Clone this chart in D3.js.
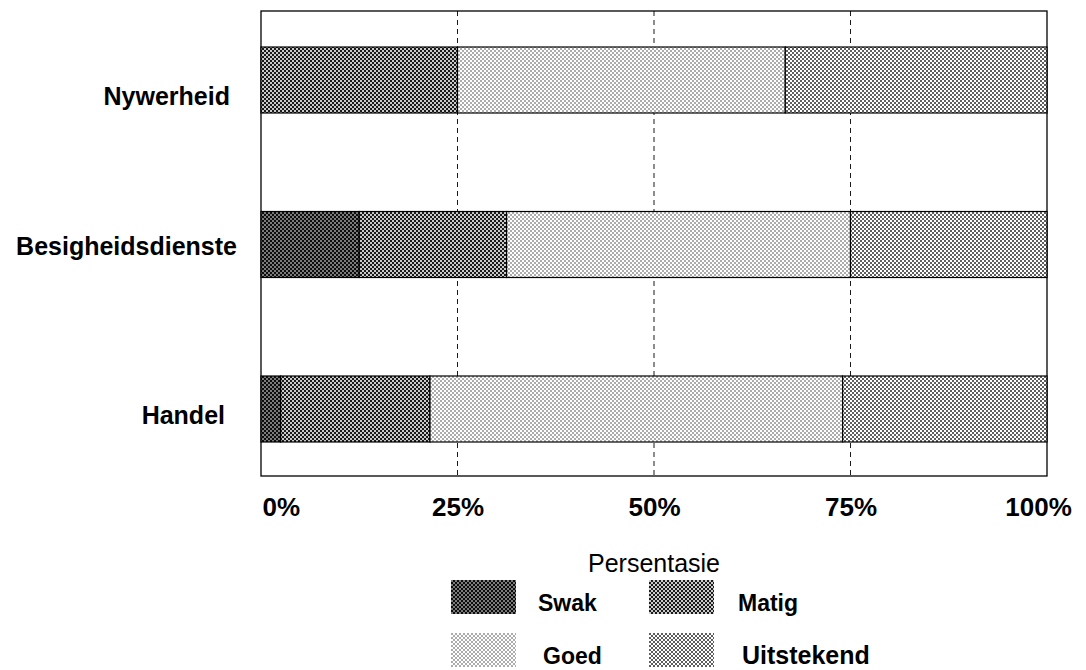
<!DOCTYPE html>
<html>
<head>
<meta charset="utf-8">
<script src="https://cdn.jsdelivr.net/npm/d3@7/dist/d3.min.js"></script>
<style>
  html, body { margin: 0; padding: 0; background: #fff; }
  svg { display: block; }
  text { font-family: "Liberation Sans", Arial, Helvetica, sans-serif; fill: #000; }
</style>
</head>
<body>
<svg id="chart" width="1086" height="670"></svg>
<script>
// Sector ratings, share of respondents per rating (percent)
const categories = ["Nywerheid", "Besigheidsdienste", "Handel"];
const ratings = ["Swak", "Matig", "Goed", "Uitstekend"];
const swak       = [0,    12.5,  2.5];
const matig      = [25,   18.75, 19];
const goed       = [41.7, 43.75, 52.5];
const uitstekend = [33.3, 25,    26];
const tickValues = [0, 25, 50, 75, 100];
const axisTitle = "Persentasie";

const series = [swak, matig, goed, uitstekend];
const rows = categories.map((c, i) => {
  const r = { category: c };
  ratings.forEach((k, j) => { r[k] = series[j][i]; });
  return r;
});

const svg = d3.select("#chart");
const margin = { left: 261, right: 1047, top: 11, bottom: 476 };

// Halftone-like fills, one per rating
const defs = svg.append("defs");
const fills = {
  Swak:       { bg: "#0d0d0d", dot: "#ffffff", size: 1.35 },
  Matig:      { bg: "#1a1a1a", dot: "#ffffff", size: 1.75 },
  Goed:       { bg: "#ffffff", dot: "#1a1a1a", size: 1.2 },
  Uitstekend: { bg: "#ffffff", dot: "#111111", size: 1.65 }
};
ratings.forEach(k => {
  const f = fills[k];
  const p = defs.append("pattern")
    .attr("id", "pat-" + k)
    .attr("patternUnits", "userSpaceOnUse")
    .attr("width", 4).attr("height", 4);
  p.append("rect").attr("width", 4).attr("height", 4).attr("fill", f.bg);
  [[0, 0], [2, 2]].forEach(([x, y]) => {
    p.append("rect")
      .attr("x", x + (2 - f.size) / 2).attr("y", y + (2 - f.size) / 2)
      .attr("width", f.size).attr("height", f.size)
      .attr("fill", f.dot);
  });
});

const x = d3.scaleLinear().domain([0, 100]).range([margin.left, margin.right]);
const y = d3.scalePoint().domain(categories).range([80, 409]);
const barH = 66;

// Frame
svg.append("rect")
  .attr("x", margin.left).attr("y", margin.top)
  .attr("width", margin.right - margin.left)
  .attr("height", margin.bottom - margin.top)
  .attr("fill", "none").attr("stroke", "#000").attr("stroke-width", 1.3);

// Dashed vertical gridlines
svg.append("g").selectAll("line")
  .data(tickValues.slice(1, -1))
  .join("line")
  .attr("x1", d => x(d)).attr("x2", d => x(d))
  .attr("y1", margin.top).attr("y2", margin.bottom)
  .attr("stroke", "#000").attr("stroke-width", 0.9)
  .attr("stroke-dasharray", "5,4");

// Stacked bars
const stack = d3.stack().keys(ratings);
const layers = stack(rows);
svg.append("g").selectAll("g")
  .data(layers)
  .join("g")
  .attr("fill", d => "url(#pat-" + d.key + ")")
  .selectAll("rect")
  .data(d => d.filter(s => s[1] - s[0] > 0))
  .join("rect")
  .attr("x", d => x(d[0]))
  .attr("width", d => x(d[1]) - x(d[0]))
  .attr("y", d => y(d.data.category) - barH / 2)
  .attr("height", barH)
  .attr("stroke", "#000").attr("stroke-width", 1.2);

// Category labels
const labelDy = [16, 2, 6];
const labelX = [230, 237, 225];
svg.append("g").selectAll("text")
  .data(categories)
  .join("text")
  .attr("x", (d, i) => labelX[i])
  .attr("y", (d, i) => y(d) + labelDy[i])
  .attr("dy", "0.35em")
  .attr("text-anchor", "end")
  .attr("font-weight", "bold")
  .attr("font-size", 25)
  .text(d => d);

// Bottom axis labels
const axis = d3.axisBottom(x).tickValues(tickValues)
  .tickFormat(d => d + "%").tickSize(0).tickPadding(0);
const gx = svg.append("g")
  .attr("transform", `translate(0,${margin.bottom})`)
  .call(axis);
gx.select(".domain").remove();
gx.selectAll("text")
  .attr("y", 40).attr("dy", 0)
  .attr("font-size", 26).attr("font-weight", "bold")
  .attr("font-family", "\"Liberation Sans\", Arial, sans-serif")
  .attr("fill", "#000")
  .attr("text-anchor", d => d === 0 ? "start" : "middle")
  .attr("dx", d => d === 0 ? 1 : (d === 100 ? -9 : 0));

svg.append("text")
  .attr("x", x(50)).attr("y", 572)
  .attr("text-anchor", "middle")
  .attr("font-size", 25)
  .text(axisTitle);

// Legend
const legendPos = [[451, 580], [649, 580], [451, 633], [649, 633]];
const lg = svg.append("g").selectAll("g")
  .data(ratings)
  .join("g")
  .attr("transform", (d, i) => `translate(${legendPos[i][0]},${legendPos[i][1]})`);
lg.append("rect")
  .attr("width", 65).attr("height", 34)
  .attr("fill", d => "url(#pat-" + d + ")");
lg.append("text")
  .attr("x", (d, i) => [87, 89, 92, 93][i])
  .attr("y", 31)
  .attr("font-size", (d, i) => i === 3 ? 25 : 23)
  .attr("font-weight", "bold")
  .text(d => d);
</script>
</body>
</html>
